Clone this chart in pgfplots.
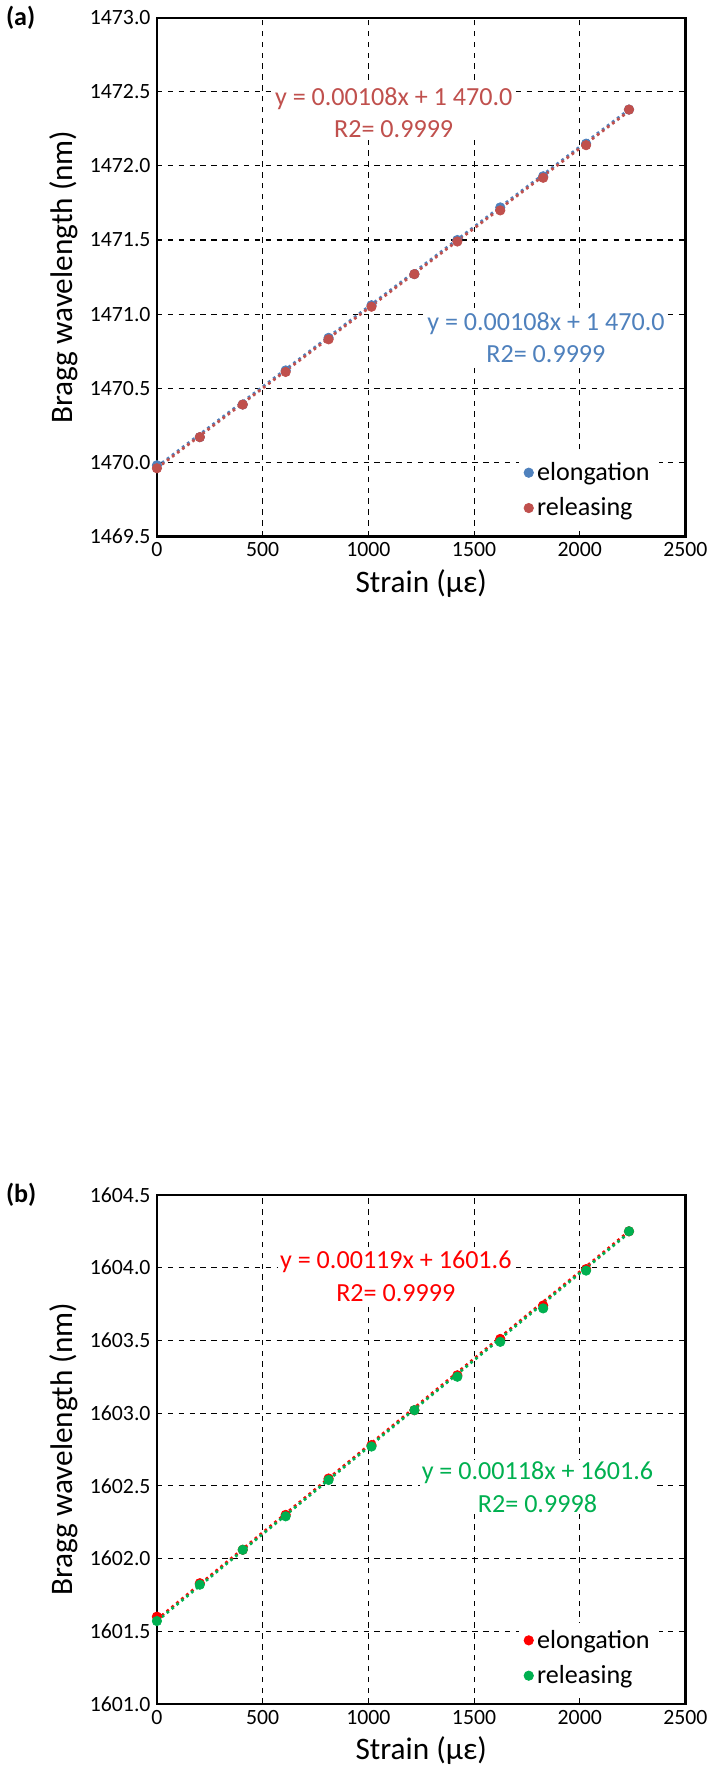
\documentclass[border=0pt]{standalone}
\usepackage{pgfplots}
\pgfplotsset{compat=1.18}
\usepackage{fontspec}
\setmainfont{Carlito}
\definecolor{cb}{HTML}{4F81BD}
\definecolor{cr}{HTML}{C0504D}
\definecolor{gr}{HTML}{00B050}
\pgfplotsset{
 myax/.style={scale only axis, width=10.25cm, xmin=0, xmax=2500, xtick distance=500,
  grid=major, grid style={black, dashed, line width=0.6pt}, axis line style={line width=1.2pt},
  tick style={draw=none}, font=\large,
  /pgf/number format/assume math mode=true, /pgf/number format/1000 sep={},
  yticklabel style={/pgf/number format/fixed, /pgf/number format/precision=1, /pgf/number format/fixed zerofill},
  xlabel={Strain (με)}, ylabel={Bragg wavelength (nm)},
  label style={font=\LARGE},
  legend style={draw=none, fill=white, font=\Large, row sep=4pt},
  legend cell align=left},
}
\begin{document}
\begin{tikzpicture}
\begin{axis}[myax, name=a, height=10.06cm, ymin=1469.5, ymax=1473, ytick distance=0.5,
 legend style={at={(0.95,0.02)}, anchor=south east}]
\addplot[only marks, mark=*, mark size=2.6pt, color=cb] coordinates {(0,1469.98)(203,1470.17)(406,1470.39)(609,1470.62)(812,1470.84)(1015,1471.06)(1218,1471.27)(1421,1471.50)(1624,1471.72)(1827,1471.93)(2030,1472.15)(2233,1472.38)};
\addlegendentry{elongation}
\addplot[only marks, mark=*, mark size=2.6pt, color=cr] coordinates {(0,1469.96)(203,1470.17)(406,1470.39)(609,1470.61)(812,1470.83)(1015,1471.05)(1218,1471.27)(1421,1471.49)(1624,1471.70)(1827,1471.92)(2030,1472.14)(2233,1472.38)};
\addlegendentry{releasing}
\addplot[cb, dotted, line width=1.5pt, forget plot] coordinates {(0,1469.97)(2233,1472.38)};
\addplot[cr, dotted, line width=1.5pt, forget plot] coordinates {(0,1469.96)(2233,1472.37)};
\node[fill=white, inner sep=1pt, text=cr, font=\Large, align=center] at (axis cs:1120,1472.36) {y = 0.00108x + 1 470.0\\R2= 0.9999};
\node[fill=white, inner sep=1pt, text=cb, font=\Large, align=center] at (axis cs:1840,1470.84) {y = 0.00108x + 1 470.0\\R2= 0.9999};
\end{axis}
\node[font=\Large\bfseries, anchor=west] at ([xshift=-3.05cm]a.north west) {(a)};
\begin{axis}[myax, name=b, at={(0,-12.77cm)}, anchor=north west, height=9.87cm, ymin=1601, ymax=1604.5, ytick distance=0.5,
 legend style={at={(0.95,0.02)}, anchor=south east}]
\addplot[only marks, mark=*, mark size=2.6pt, color=red] coordinates {(0,1601.60)(203,1601.83)(406,1602.06)(609,1602.30)(812,1602.55)(1015,1602.78)(1218,1603.02)(1421,1603.26)(1624,1603.51)(1827,1603.74)(2030,1603.99)(2233,1604.25)};
\addlegendentry{elongation}
\addplot[only marks, mark=*, mark size=2.6pt, color=gr] coordinates {(0,1601.57)(203,1601.82)(406,1602.06)(609,1602.29)(812,1602.54)(1015,1602.77)(1218,1603.02)(1421,1603.25)(1624,1603.49)(1827,1603.72)(2030,1603.98)(2233,1604.25)};
\addlegendentry{releasing}
\addplot[red, dotted, line width=1.5pt, forget plot] coordinates {(0,1601.58)(2233,1604.25)};
\addplot[gr, dotted, line width=1.5pt, forget plot] coordinates {(0,1601.57)(2233,1604.24)};
\node[fill=white, inner sep=1pt, text=red, font=\Large, align=center] at (axis cs:1130,1603.94) {y = 0.00119x + 1601.6\\R2= 0.9999};
\node[fill=white, inner sep=1pt, text=gr, font=\Large, align=center] at (axis cs:1800,1602.49) {y = 0.00118x + 1601.6\\R2= 0.9998};
\end{axis}
\node[font=\Large\bfseries, anchor=west] at ([xshift=-3.05cm]b.north west) {(b)};
\end{tikzpicture}
\end{document}
